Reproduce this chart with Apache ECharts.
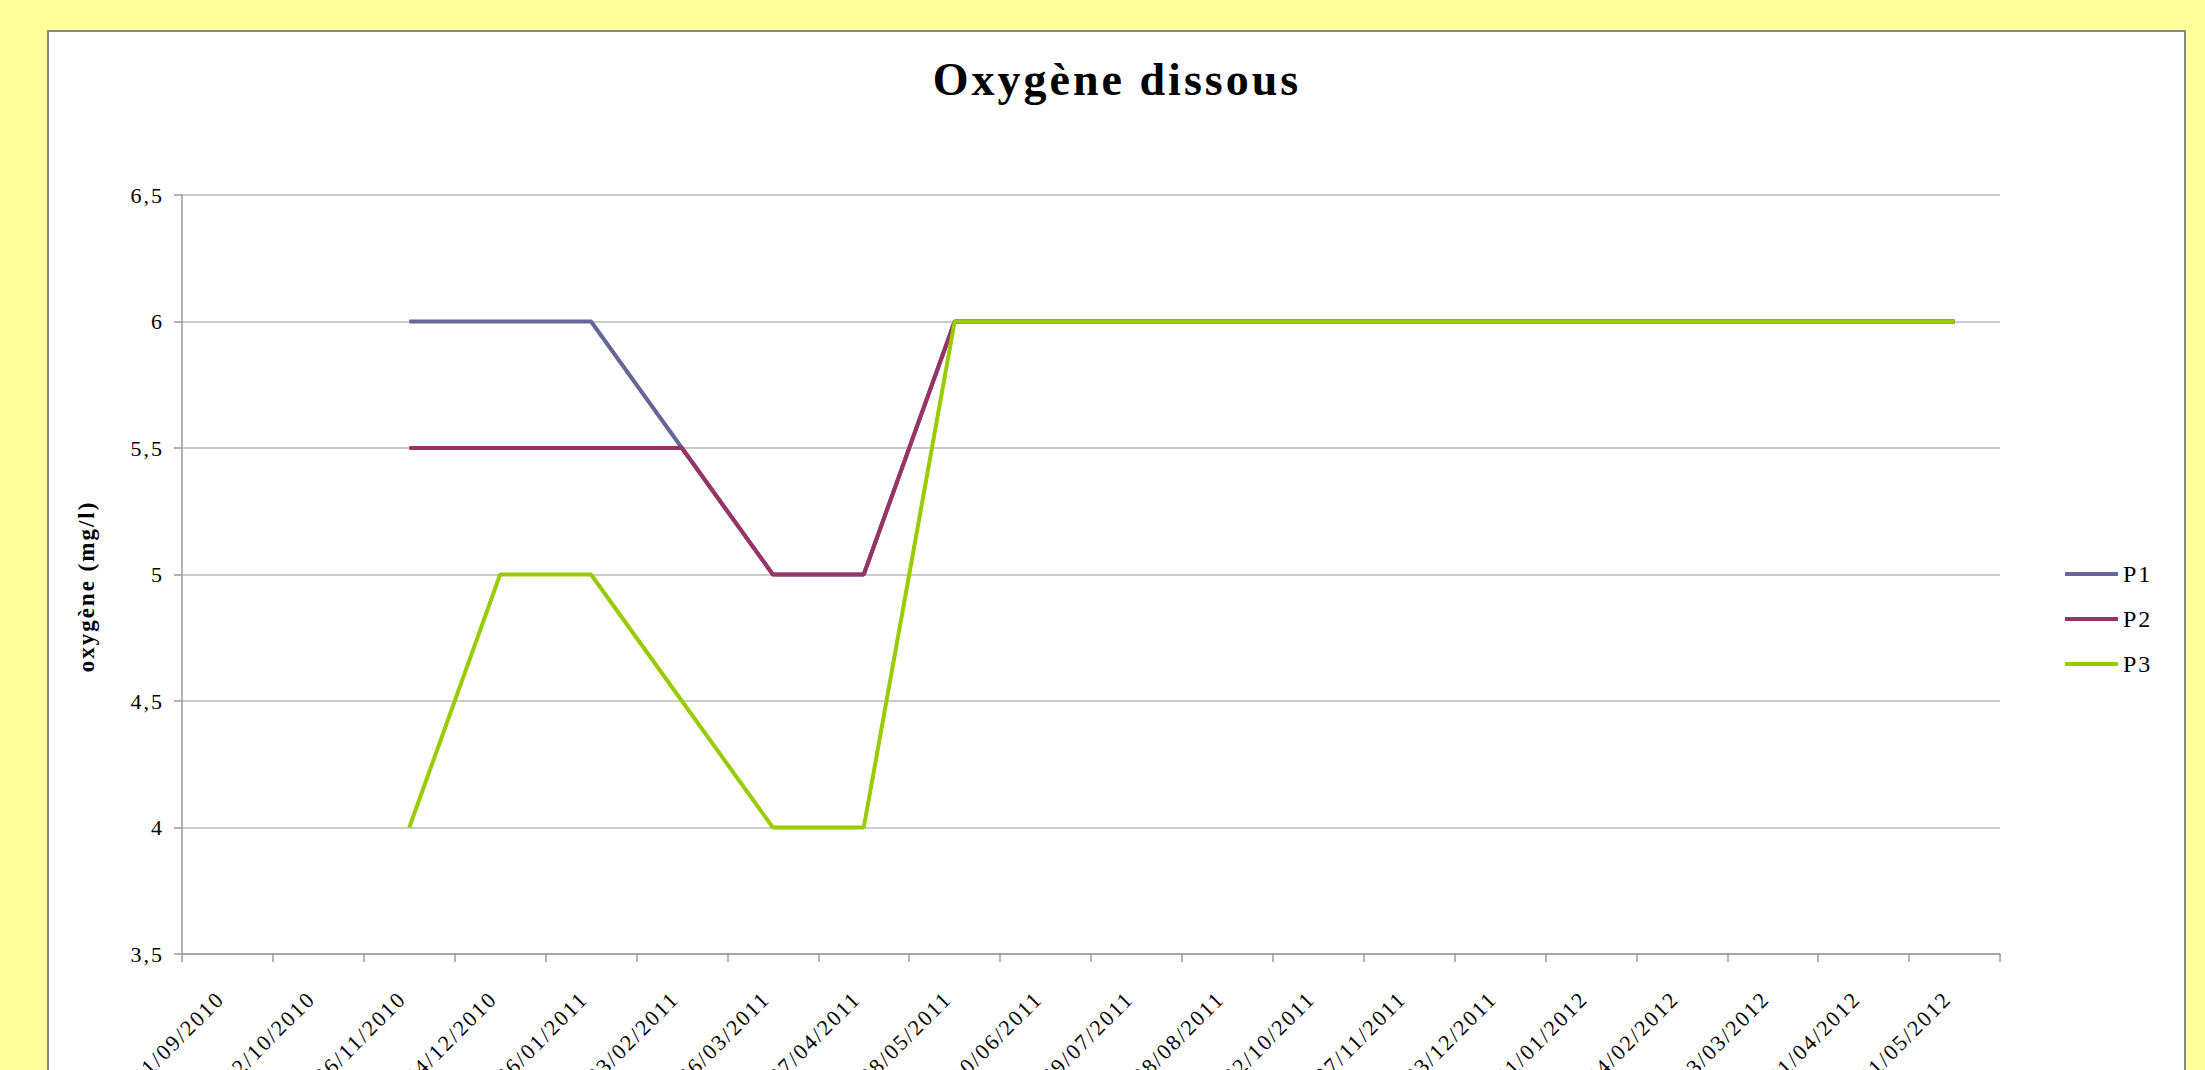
<!DOCTYPE html>
<html>
<head>
<meta charset="utf-8">
<script src="https://cdn.jsdelivr.net/npm/echarts@6/dist/echarts.min.js"></script>
<style>
  html, body { margin: 0; padding: 0; background: #FFFF99; }
  #chart { width: 2205px; height: 1070px; }
  #chart text { letter-spacing: 2px; }
  #chart text[style*="46px"] { letter-spacing: 3px; }
</style>
</head>
<body>
<div id="chart"></div>
<script>
const categories = ["01/09/2010","02/10/2010","06/11/2010","04/12/2010","06/01/2011","03/02/2011","06/03/2011","07/04/2011","08/05/2011","10/06/2011","09/07/2011","08/08/2011","02/10/2011","07/11/2011","03/12/2011","01/01/2012","04/02/2012","03/03/2012","01/04/2012","01/05/2012"];
const p1 = [null, null, 6, 6, 6, 5.5, 5, 5, 6, 6, 6, 6, 6, 6, 6, 6, 6, 6, 6, 6];
const p2 = [null, null, 5.5, 5.5, 5.5, 5.5, 5, 5, 6, 6, 6, 6, 6, 6, 6, 6, 6, 6, 6, 6];
const p3 = [null, null, 4, 5, 5, 4.5, 4, 4, 6, 6, 6, 6, 6, 6, 6, 6, 6, 6, 6, 6];
const seriesNames = ["P1", "P2", "P3"];
const titleText = "Oxygène dissous";
const yAxisTitle = "oxygène (mg/l)";

const FONT = '"Liberation Serif", "Times New Roman", serif';
const chart = echarts.init(document.getElementById('chart'), null, { renderer: 'svg', width: 2205, height: 1070 });
chart.setOption({
  backgroundColor: '#FFFF99',
  animation: false,
  graphic: [{
    type: 'rect', z: -10, silent: true,
    shape: { x: 48, y: 31, width: 2137, height: 1100 },
    style: { fill: '#FFFFFF', stroke: '#868686', lineWidth: 2 }
  }],
  title: {
    text: titleText,
    left: 1112, top: 51, textAlign: 'center',
    textStyle: { fontFamily: FONT, fontWeight: 'bold', fontSize: 46, color: '#000' }
  },
  legend: {
    orient: 'vertical', left: 2065, top: 562, padding: 0,
    icon: 'rect', itemWidth: 53, itemHeight: 4, itemGap: 21,
    textStyle: { fontFamily: FONT, fontSize: 24, color: '#000' },
    data: seriesNames
  },
  grid: { left: 182, right: 205, top: 195, bottom: 116, containLabel: false, outerBoundsMode: 'none' },
  xAxis: {
    type: 'category', data: categories, boundaryGap: true,
    axisLine: { lineStyle: { color: '#9A9A9A', width: 1.5 } },
    axisTick: { show: true, length: 8, lineStyle: { color: '#9A9A9A', width: 1.5 } },
    axisLabel: { interval: 0, rotate: 45, margin: 34, padding: [0, 10, 0, 0],
      fontFamily: FONT, fontSize: 22, color: '#000' },
    splitLine: { show: false }
  },
  yAxis: {
    type: 'value', min: 3.5, max: 6.5, interval: 0.5,
    name: yAxisTitle, nameLocation: 'middle', nameRotate: 90, nameGap: 84,
    nameTextStyle: { fontFamily: FONT, fontWeight: 'bold', fontSize: 23, color: '#000', padding: [0, 24, 0, 0] },
    axisLine: { show: true, lineStyle: { color: '#9A9A9A', width: 1.5 } },
    axisTick: { show: true, length: 8, lineStyle: { color: '#9A9A9A', width: 1.5 } },
    axisLabel: { margin: 18, fontFamily: FONT, fontSize: 22, color: '#000',
      formatter: v => String(v).replace('.', ',') },
    splitLine: { show: true, lineStyle: { color: '#B8B8B8', width: 1.5 } }
  },
  series: [
    { name: seriesNames[0], type: 'line', data: p1, symbol: 'none', connectNulls: false,
      lineStyle: { color: '#666699', width: 4 }, itemStyle: { color: '#666699' } },
    { name: seriesNames[1], type: 'line', data: p2, symbol: 'none', connectNulls: false,
      lineStyle: { color: '#993366', width: 4 }, itemStyle: { color: '#993366' } },
    { name: seriesNames[2], type: 'line', data: p3, symbol: 'none', connectNulls: false,
      lineStyle: { color: '#99CC00', width: 4 }, itemStyle: { color: '#99CC00' } }
  ]
});
</script>
</body>
</html>
